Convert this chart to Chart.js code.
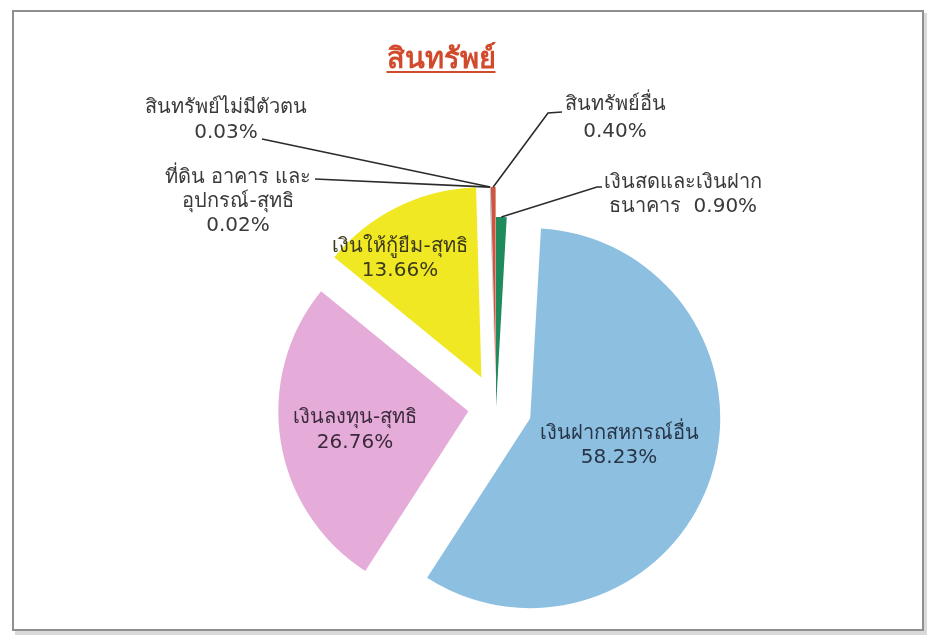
<!DOCTYPE html>
<html>
<head>
<meta charset="utf-8">
<script src="https://cdn.jsdelivr.net/npm/chart.js@4"></script>
<style>
html,body{margin:0;padding:0;background:#ffffff;}
#wrap{width:938px;height:642px;position:relative;}
canvas{display:block;}
</style>
</head>
<body>
<div id="wrap"><canvas id="c" width="938" height="642"></canvas></div>
<script>
// ---- data ----
const chartTitle = 'สินทรัพย์';
const categories = [
  'เงินสดและเงินฝากธนาคาร',
  'เงินฝากสหกรณ์อื่น',
  'เงินลงทุน-สุทธิ',
  'เงินให้กู้ยืม-สุทธิ',
  'ที่ดิน อาคาร และอุปกรณ์-สุทธิ',
  'สินทรัพย์ไม่มีตัวตน',
  'สินทรัพย์อื่น'
];
const values = [0.90, 58.23, 26.76, 13.66, 0.02, 0.03, 0.40];
// how each category name is broken into label lines ({p} = percentage)
const labelLines = [
  ['เงินสดและเงินฝาก', 'ธนาคาร  {p}'],
  ['เงินฝากสหกรณ์อื่น', '{p}'],
  ['เงินลงทุน-สุทธิ', '{p}'],
  ['เงินให้กู้ยืม-สุทธิ', '{p}'],
  ['ที่ดิน อาคาร และ', 'อุปกรณ์-สุทธิ', '{p}'],
  ['สินทรัพย์ไม่มีตัวตน', '{p}'],
  ['สินทรัพย์อื่น', '{p}']
];

// ---- style / layout ----
const colors = ['#1f8a5c', '#8dbfe0', '#e5abd9', '#f1e824', '#8e8e8e', '#4f7fbf', '#cf553f'];
const explode = [0, 36, 28, 33, 30, 30, 30]; // pixel shift of each slice
const baseRadius = 190;
const FONT = '"Tahoma","DejaVu Sans","Noto Sans",sans-serif';
// label text centers (x, first line y), line height, and leader routes
const labelLayout = [
  {x: 683, y: 183, lh: 24, leader: [[597, 187], [602, 187]]},
  {x: 619, y: 434, lh: 24, color: '#263547'},
  {x: 355, y: 418, lh: 25, color: '#3b2a3b'},
  {x: 400, y: 247, lh: 24, color: '#3a3a1a'},
  {x: 238, y: 178, lh: 24, leader: [[315, 179]]},
  {x: 226, y: 108, lh: 25, leader: [[262, 139]]},
  {x: 615, y: 105, lh: 27, leader: [[548, 113], [562, 112]]}
];

const framePlugin = {
  id: 'frame',
  beforeDraw(chart) {
    const ctx = chart.ctx;
    ctx.save();
    ctx.fillStyle = '#ffffff';
    ctx.fillRect(0, 0, chart.width, chart.height);
    ctx.fillStyle = '#d9d9d9';
    ctx.fillRect(15, 13, 912, 622);
    ctx.fillStyle = '#ffffff';
    ctx.fillRect(12, 10, 912, 621);
    ctx.strokeStyle = '#8f8f8f';
    ctx.lineWidth = 2;
    ctx.strokeRect(13, 11, 910, 619);
    // title
    ctx.font = 'bold 29px ' + FONT;
    ctx.fillStyle = '#d14a2c';
    ctx.textAlign = 'center';
    ctx.textBaseline = 'alphabetic';
    ctx.fillText(chartTitle, 441, 68);
    const w = ctx.measureText(chartTitle).width;
    ctx.fillRect(441 - w / 2, 71, w, 2);
    ctx.restore();
  }
};

// keep every exploded slice at the same radius and its true angle
const radiusFixPlugin = {
  id: 'radiusFix',
  beforeDatasetsDraw(chart) {
    const meta = chart.getDatasetMeta(0);
    meta.data.forEach((arc) => {
      if (!arc._orig) arc._orig = {s: arc.startAngle, e: arc.endAngle};
      const off = (arc.options.offset || 0) / 4;
      const fix = 1 - Math.sin(Math.min(Math.PI, arc.circumference || 0));
      const rOff = off * fix;
      arc.outerRadius = baseRadius - rOff;
      const extra = rOff / Math.PI / baseRadius;
      arc.startAngle = arc._orig.s - extra / 2;
      arc.endAngle = arc._orig.e + extra / 2;
    });
  }
};

const labelPlugin = {
  id: 'labels',
  afterDatasetsDraw(chart) {
    const ctx = chart.ctx;
    const meta = chart.getDatasetMeta(0);
    ctx.save();
    meta.data.forEach((arc, i) => {
      const L = labelLayout[i];
      const mid = (arc.startAngle + arc.endAngle) / 2;
      const shift = (arc.options.offset || 0) / 4;
      if (L.leader) {
        const px = arc.x + Math.cos(mid) * (shift + baseRadius);
        const py = arc.y + Math.sin(mid) * (shift + baseRadius);
        ctx.beginPath();
        ctx.strokeStyle = '#2b2b2b';
        ctx.lineWidth = 1.6;
        ctx.moveTo(px, py);
        L.leader.forEach(p => ctx.lineTo(p[0], p[1]));
        ctx.stroke();
      }
      const pct = values[i].toFixed(2) + '%';
      ctx.font = '20px ' + FONT;
      ctx.fillStyle = L.color || '#3a3a3a';
      ctx.textAlign = 'center';
      ctx.textBaseline = 'middle';
      labelLines[i].forEach((t, k) => {
        ctx.fillText(t.replace('{p}', pct), L.x, L.y + k * L.lh);
      });
    });
    ctx.restore();
  }
};

const cx = 496, cy = 407;
new Chart(document.getElementById('c'), {
  type: 'pie',
  data: {
    labels: categories,
    datasets: [{
      data: values,
      backgroundColor: colors,
      borderWidth: 0,
      offset: explode.map(v => v * 4),
      clip: false
    }]
  },
  options: {
    responsive: false,
    animation: false,
    events: [],
    radius: baseRadius,
    layout: {padding: {left: 2 * cx - 938, top: 2 * cy - 642, right: 0, bottom: 0}},
    plugins: {legend: {display: false}, tooltip: {enabled: false}, title: {display: false}}
  },
  plugins: [framePlugin, radiusFixPlugin, labelPlugin]
});
</script>
</body>
</html>
